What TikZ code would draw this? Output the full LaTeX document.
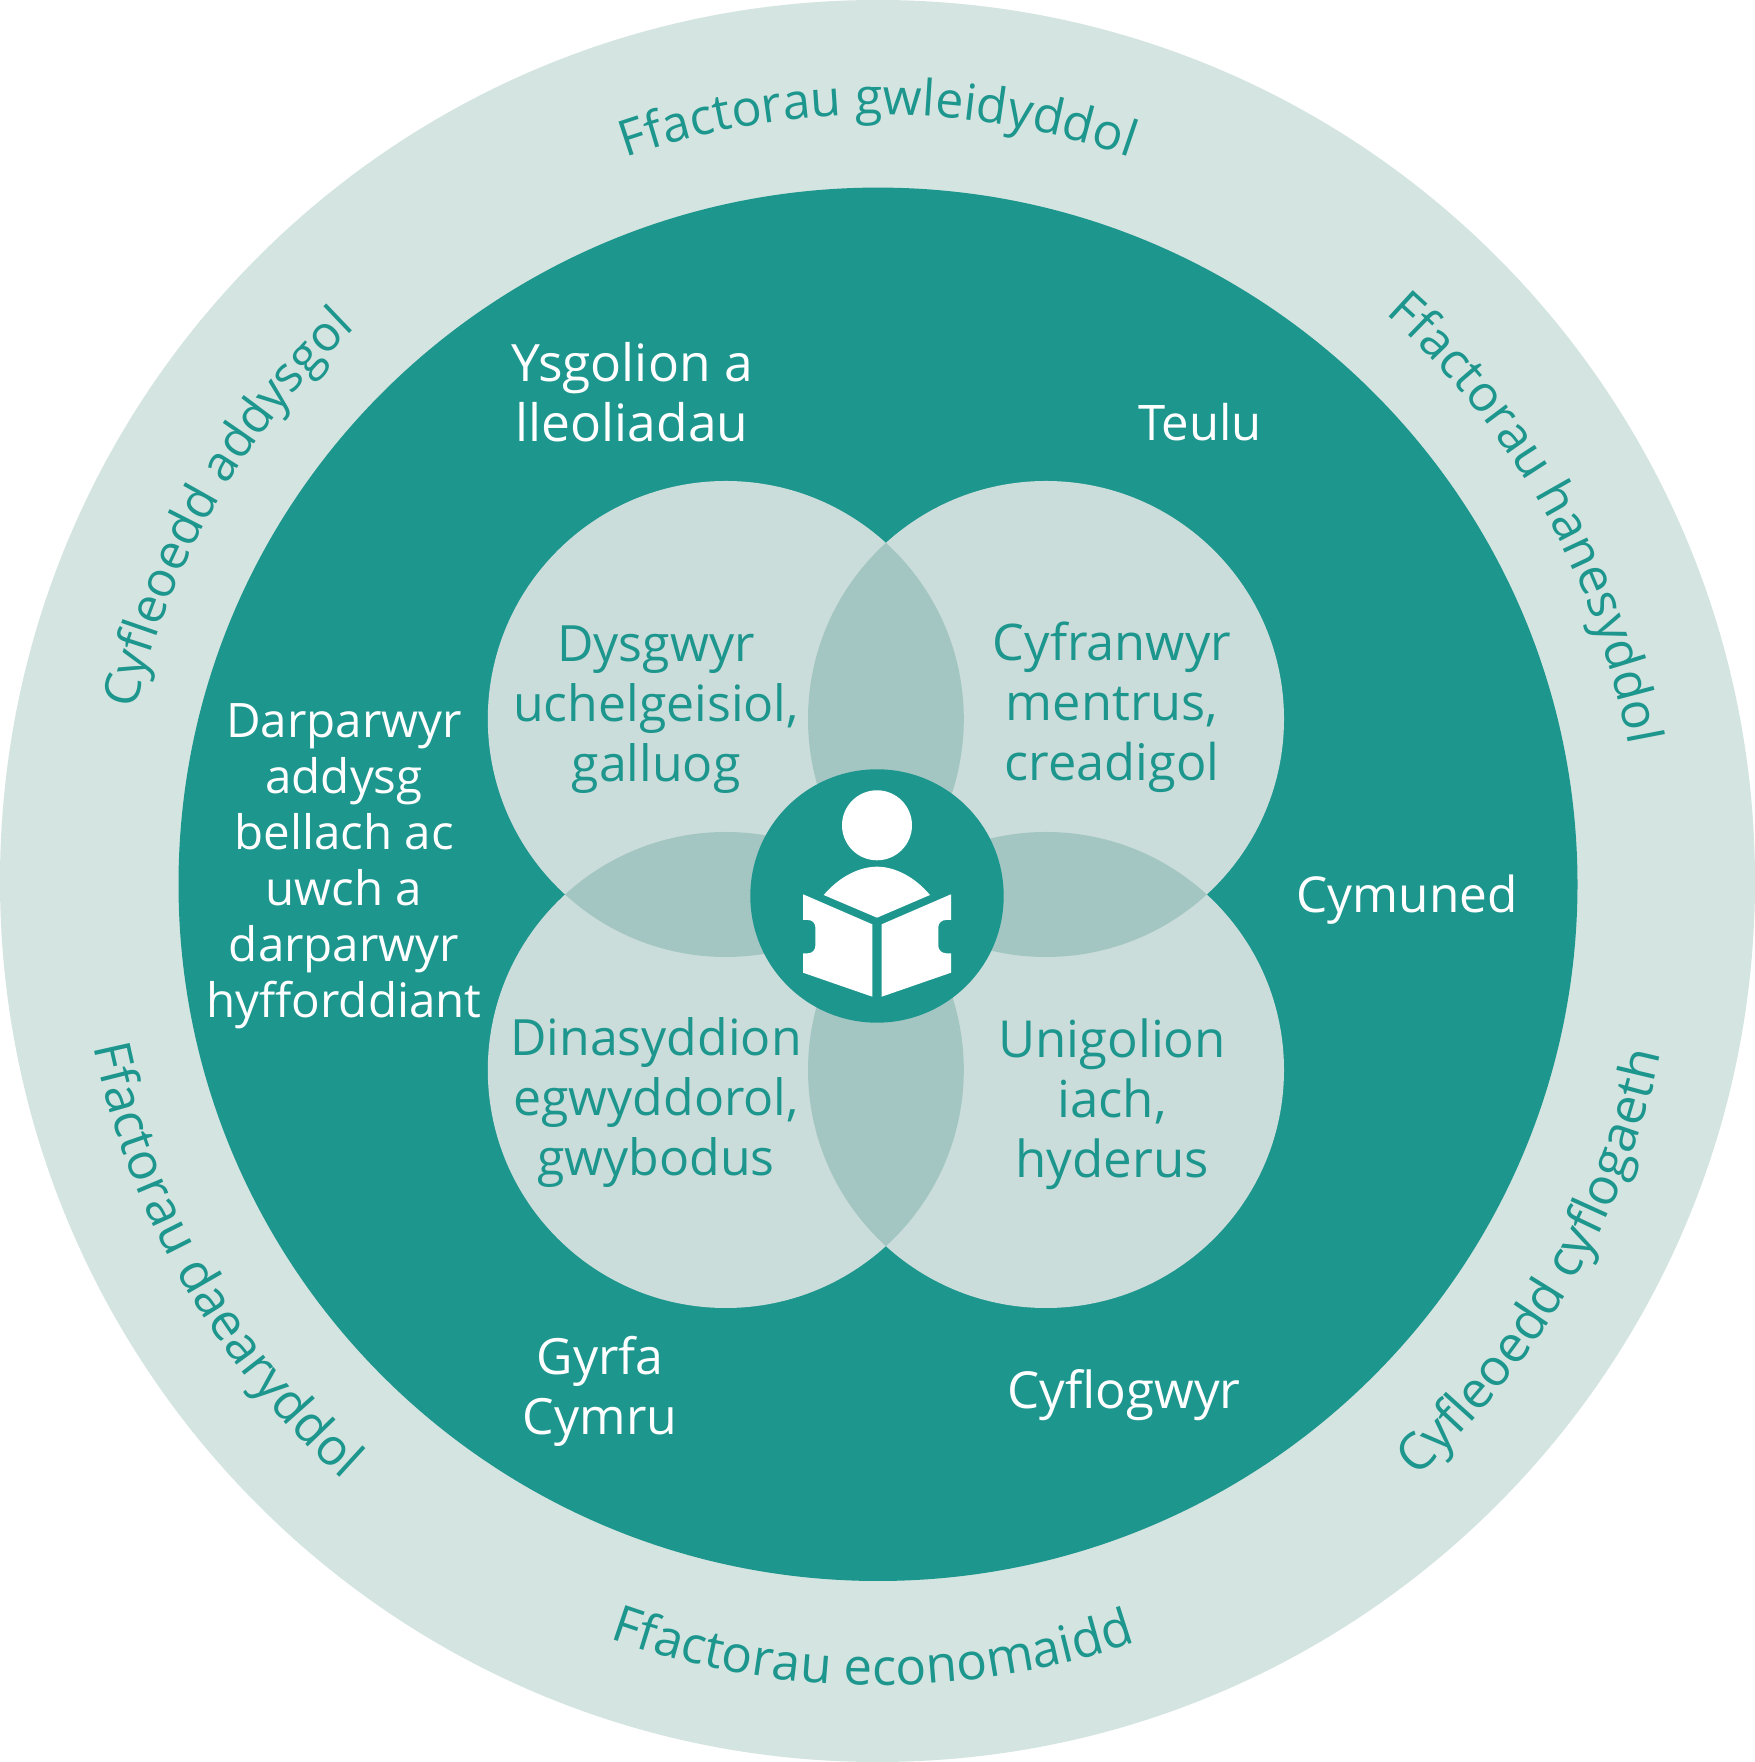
\documentclass[tikz,border=0pt]{standalone}
\usepackage{fontspec}
\setmainfont{Open Sans}
\usetikzlibrary{decorations.text,calc}
\definecolor{teal1}{HTML}{1D968E}
\definecolor{ringc}{HTML}{D4E4E0}
\definecolor{petal}{HTML}{CBDDDB}
\definecolor{lens}{HTML}{A3C6C3}
\newcommand{\arcfont}{\fontsize{\arcsize}{60}\selectfont}
\newcommand{\arcsize}{50}
\tikzset{
  whitetext/.style={text=white,align=center,inner sep=0pt,font=\fontsize{#1}{60}\selectfont},
  whiteblock/.style={text=white,align=center,inner sep=0pt,font=\fontsize{47.5}{56}\selectfont},
  petaltext/.style={text=teal1,align=center,inner sep=0pt,font=\fontsize{#1}{60}\selectfont},
  ringcw/.style={decorate,decoration={text along path,text color=teal1,text align={align=center},raise=0pt,text={|\arcfont|#1}}},
}
\newcommand{\cwtext}[4]{% size, mid angle, radius, text
  \renewcommand{\arcsize}{#1}%
  \pgfmathsetmacro{\sa}{#2+70}\pgfmathsetmacro{\ea}{#2-70}
  \path[ringcw={#4}] ($(878,878)+(\sa:#3)$) arc[start angle=\sa,end angle=\ea,radius=#3];}
\newcommand{\ccwtext}[4]{%
  \renewcommand{\arcsize}{#1}%
  \pgfmathsetmacro{\sa}{#2-70}\pgfmathsetmacro{\ea}{#2+70}
  \path[ringcw={#4}] ($(878,878)+(\sa:#3)$) arc[start angle=\sa,end angle=\ea,radius=#3];}
\begin{document}
\begin{tikzpicture}[x=1pt,y=1pt]
\useasboundingbox (0,0) rectangle (1755,1762);
\fill[ringc] (877.5,881) ellipse[x radius=877.5,y radius=881];
\fill[teal1] (878,877.7) ellipse[x radius=699.5,y radius=696.7];
% petals
\fill[petal] (725.8,1043) circle[radius=238];
\fill[petal] (1046,1043) circle[radius=238];
\fill[petal] (725.8,692) circle[radius=238];
\fill[petal] (1046,692) circle[radius=238];
% overlaps
\begin{scope}\clip (725.8,1043) circle[radius=238];
  \fill[lens] (1046,1043) circle[radius=238];
  \fill[lens] (725.8,692) circle[radius=238];
\end{scope}
\begin{scope}\clip (1046,692) circle[radius=238];
  \fill[lens] (1046,1043) circle[radius=238];
  \fill[lens] (725.8,692) circle[radius=238];
\end{scope}
% centre icon
\fill[teal1] (877,866) circle[radius=126.7];
\fill[white] (877,936.7) circle[radius=35];
\fill[white] (823.7,867) .. controls (840,886) and (860,895.3) .. (877,895.3)
  .. controls (894,895.3) and (914,886) .. (930,867) -- (877,844.3) -- cycle;
\fill[white] (803,867.7) -- (872.3,837.7) -- (872.3,765.3) -- (803,789.3) -- (803,808.7)
  -- (808,808.7) .. controls (812,808.7) and (815.3,812) .. (815.3,816) -- (815.3,835)
  .. controls (815.3,839) and (812,842) .. (808,842) -- (803,842) -- cycle;
\fill[white] (951,867.7) -- (881.7,837.7) -- (881.7,765.3) -- (951,789.3) -- (951,808.7)
  -- (946,808.7) .. controls (942,808.7) and (938.3,812) .. (938.3,816) -- (938.3,835)
  .. controls (938.3,839) and (942,842) .. (946,842) -- (951,842) -- cycle;
% ring text
\cwtext{50}{90}{769}{Ffactorau gwleidyddol}
\cwtext{50}{29.4}{763}{Ffactorau hanesyddol}
\cwtext{49}{150}{763}{Cyfleoedd addysgol}
\ccwtext{51}{-30}{801}{Cyfleoedd cyflogaeth}
\ccwtext{51}{-90.4}{801}{Ffactorau economaidd}
\ccwtext{51}{-150.1}{801}{Ffactorau daearyddol}
% white labels
\node[whitetext=51.5] (ysgol) at (632,1370) {Ysgolion a\\lleoliadau};
\node[whitetext=49] (teulu) at (1200,1340) {Teulu};
\node[whiteblock] (darp) at (344,896) {Darparwyr\\addysg\\bellach ac\\uwch a\\darparwyr\\hyfforddiant};
\node[whitetext=49.5] (cymun) at (1407,862.5) {Cymuned};
\node[whitetext=50] (gyrfa) at (600,371) {Gyrfa\\Cymru};
\node[whitetext=51] (cyflog) at (1124,367) {Cyflogwyr};
% petal labels
\node[petaltext=50] (dysg) at (656,1052) {Dysgwyr\\uchelgeisiol,\\galluog};
\node[petaltext=50.5] (cyfr) at (1112,1055) {Cyfranwyr\\mentrus,\\creadigol};
\node[petaltext=50] (dina) at (656,659.5) {Dinasyddion\\egwyddorol,\\gwybodus};
\node[petaltext=51] (unig) at (1112,658) {Unigolion\\iach,\\hyderus};
\end{tikzpicture}
\end{document}
